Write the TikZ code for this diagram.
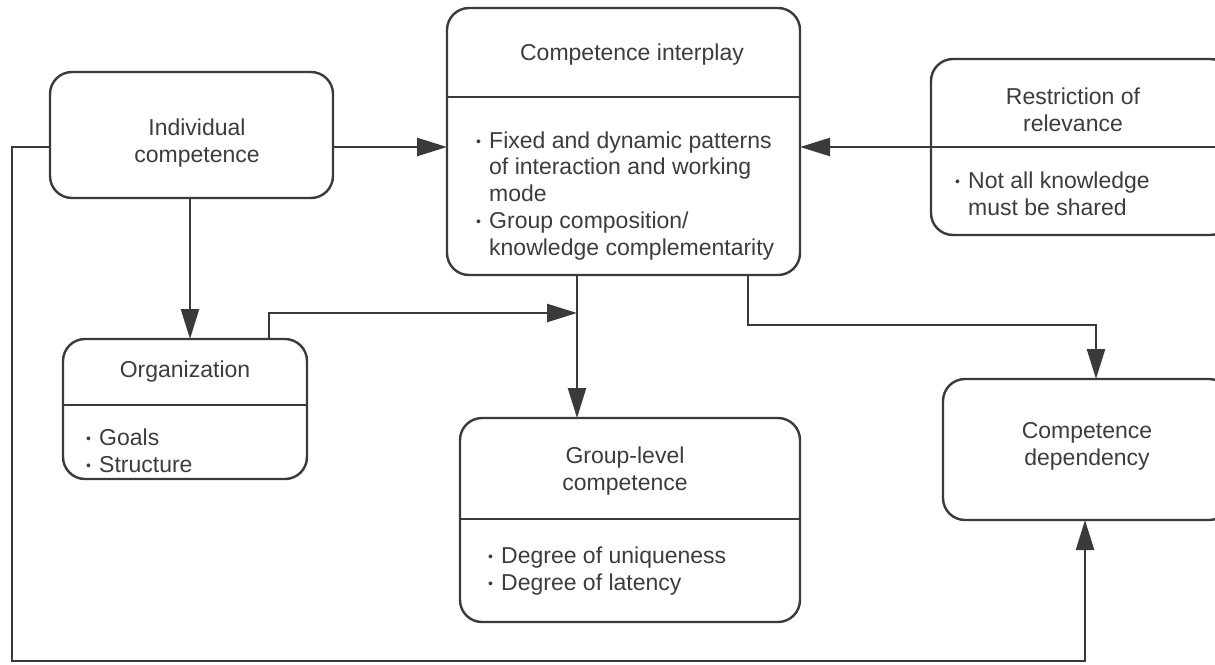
\documentclass[tikz,border=0pt]{standalone}
\usepackage{fontspec}
\setmainfont{Liberation Sans}
\usetikzlibrary{arrows.meta}
\definecolor{ink}{HTML}{3A3A3A}
\definecolor{txt}{HTML}{3C3C3C}
% bullet and continuation indent for the item lists
\newcommand{\itm}{\makebox[13pt][l]{\raisebox{1.5pt}{\fontsize{14pt}{14pt}\selectfont •}}}
\newcommand{\contline}{\hspace*{13pt}}
\tikzset{
  box/.style={draw=ink, line width=2.4pt, rounded corners=22pt, inner sep=0pt, outer sep=0pt},
  title/.style={text=txt, font=\fontsize{23pt}{26.7pt}\selectfont, align=center, inner sep=0pt},
  % lists are placed by the baseline of their last line
  items/.style={text=txt, font=\fontsize{23pt}{26.7pt}\selectfont, align=left, inner sep=0pt, anchor=base west},
  link/.style={draw=ink, line width=2.4pt},
  arr/.style={link, -{Triangle[length=30pt,width=18pt]}}
}
\begin{document}
\begin{tikzpicture}[x=1pt,y=-1pt]
\useasboundingbox (0,0) rectangle (1215,664);
\clip (0,0) rectangle (1215,664);

% boxes
\node[box, minimum width=353pt, minimum height=267pt] (inter) at (623.5,141.5) {};
\node[box, minimum width=283pt, minimum height=126pt] (indiv) at (191.5,135) {};
\node[box, minimum width=301pt, minimum height=176pt] (restr) at (1081.5,147) {};
\node[box, minimum width=244pt, minimum height=140pt] (org) at (185,409) {};
\node[box, minimum width=340pt, minimum height=204pt] (group) at (630,520) {};
\node[box, minimum width=288pt, minimum height=141pt] (dep) at (1087,449.5) {};

% compartment dividers
\draw[link] (inter.west |- 0,97) -- (inter.east |- 0,97);
\draw[link] (restr.west |- 0,147) -- (restr.east |- 0,147);
\draw[link] (org.west |- 0,405) -- (org.east |- 0,405);
\draw[link] (group.west |- 0,519) -- (group.east |- 0,519);

% titles
\node[title] (tinter) at (632,55) {Competence interplay};
\node[title] (tindiv) at (197,143) {Individual\\competence};
\node[title] (trestr) at (1073,110) {Restriction of\\relevance};
\node[title] (torg) at (185,372) {Organization};
\node[title] (tgroup) at (625,471) {Group-level\\competence};
\node[title] (tdep) at (1087,446) {Competence\\dependency};

% item lists
\node[items] (linter) at (476,255) {\itm Fixed and dynamic patterns\\\contline of interaction and working\\\contline mode\\\itm Group composition/\\\contline knowledge complementarity};
\node[items] (lrestr) at (955,215) {\itm Not all knowledge\\\contline must be shared};
\node[items] (lorg) at (86,472) {\itm Goals\\\itm Structure};
\node[items] (lgroup) at (488,590) {\itm Degree of uniqueness\\\itm Degree of latency};

% connectors
\coordinate (j1) at (269,313);
\coordinate (j2) at (748,325);
\coordinate (j3) at (12,661);
\draw[arr] (indiv.east |- 0,147) -- (inter.west |- 0,147);
\draw[arr] (restr.west |- 0,147) -- (inter.east |- 0,147);
\draw[arr] (indiv.south -| 190,0) -- (org.north -| 190,0);
\draw[arr] (org.north -| j1) -- (j1) -- (577,313);
\draw[arr] (inter.south -| 577,0) -- (group.north -| 577,0);
\draw[arr] (inter.south -| j2) -- (j2) -- (1096,325) -- (dep.north -| 1096,0);
\draw[arr] (indiv.west |- 0,147) -- (12,147) -- (j3) -- (1085,661) -- (dep.south -| 1085,0);
\end{tikzpicture}
\end{document}
